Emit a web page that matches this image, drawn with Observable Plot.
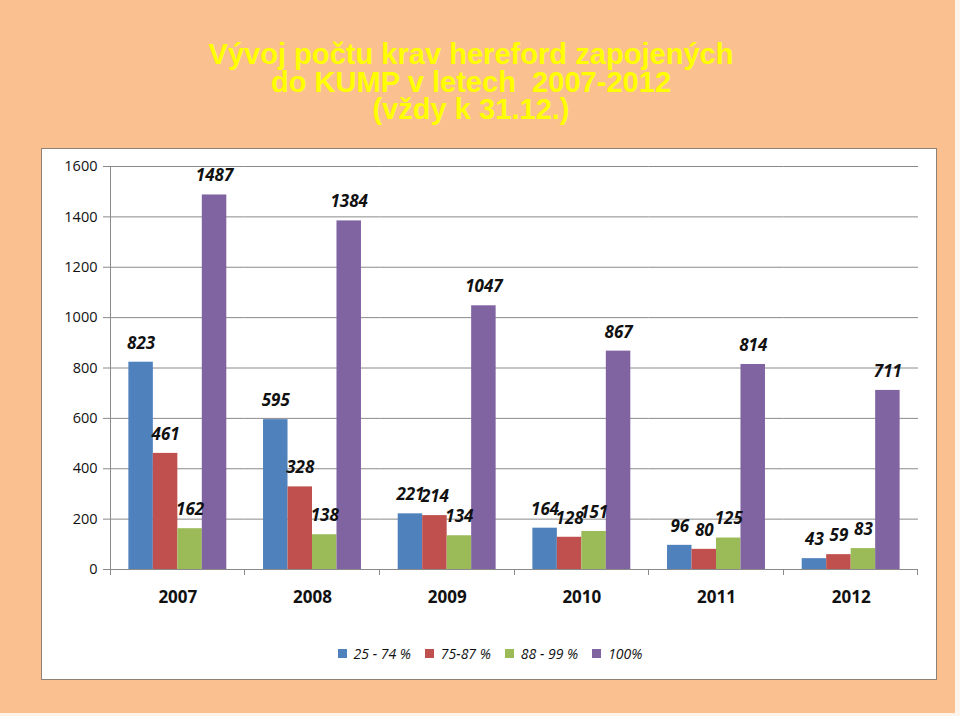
<!DOCTYPE html>
<html><head><meta charset="utf-8">
<script src="https://cdn.jsdelivr.net/npm/d3@7"></script>
<script src="https://cdn.jsdelivr.net/npm/@observablehq/plot@0.6"></script>
<style>
html,body{margin:0;padding:0;background:#fdf4ec;width:960px;height:716px;overflow:hidden}
#page{position:absolute;left:0;top:0;width:955px;height:713px;background:#fac090}
#title{position:absolute;left:0;top:40px;width:942px;text-align:center;color:#ffff00;
 font-family:"Liberation Sans",Arial,sans-serif;font-weight:bold;
 font-size:29.5px;line-height:27.5px;transform-origin:471px 0}
#box{position:absolute;left:41px;top:148px;width:894px;height:530px;background:#fff;border:1px solid #8f8274}
#chart{position:absolute;left:0;top:0}
#legend{position:absolute;left:8px;top:488px;width:894px;display:flex;justify-content:center}
.lg-swatch{margin-right:14px !important;font-style:italic}
</style></head>
<body>
<div id="page">
 <div id="title">Vývoj počtu krav hereford zapojených<br>do KUMP v letech&nbsp; 2007-2012<br>(vždy k 31.12.)</div>
 <div id="box"><div id="chart"></div><div id="legend"></div></div>
</div>
<script>
const years = ["2007","2008","2009","2010","2011","2012"];
const series = ["25 - 74 %","75-87 %","88 - 99 %","100%"];
const colors = ["#4f81bd","#c0504d","#9bbb59","#8064a2"];
const v25_74  = [823, 595, 221, 164, 96, 43];
const v75_87  = [461, 328, 214, 128, 80, 59];
const v88_99  = [162, 138, 134, 151, 125, 83];
const v100    = [1487, 1384, 1047, 867, 814, 711];
const yTicks = [0,200,400,600,800,1000,1200,1400,1600];

const valueSets = [v25_74, v75_87, v88_99, v100];
const data = [];
years.forEach((yr, j) => series.forEach((s, k) => data.push({year: yr, series: s, value: valueSets[k][j]})));

// condense the title to the reference's narrow look
(function(){
  const c = document.createElement("canvas").getContext("2d");
  c.font = "bold 29.5px 'Liberation Sans', Arial, sans-serif";
  const w = c.measureText("Vývoj počtu krav hereford zapojených").width;
  document.getElementById("title").style.transform = `scaleX(${525 / w})`;
})();

const axisGray = "#8a8a8a";
const font = "'Open Sans', sans-serif";

const edgeTicks = Plot.dot(years, {
  fx: d => d, frameAnchor: "middle",
  render(index, scales) {
    const {x, y} = scales;
    const [x0, x1] = x.range();
    const g = d3.create("svg:g").attr("stroke", axisGray).attr("stroke-width", 1).attr("shape-rendering","crispEdges");
    for (const i of index) {
      const top = i === 0 ? y(yTicks[yTicks.length-1]) : y(0);
      g.append("line").attr("x1", x0).attr("x2", x0).attr("y1", top).attr("y2", y(0) + 6);
      if (i === years.length - 1)
        g.append("line").attr("x1", x1).attr("x2", x1).attr("y1", y(0)).attr("y2", y(0) + 6);
    }
    return g.node();
  }
});

const chart = Plot.plot({
  width: 894, height: 460,
  marginLeft: 68, marginRight: 18, marginTop: 17, marginBottom: 40,
  style: {fontFamily: font, background: "transparent", overflow: "visible"},
  fx: {domain: years, padding: 0, round: false, label: null},
  x: {domain: series, paddingInner: 0, paddingOuter: 0.75, round: false, axis: null},
  y: {domain: [0, 1600], ticks: yTicks, label: null},
  color: {domain: series, range: colors},
  marks: [
    Plot.gridY(yTicks, {stroke: axisGray, strokeOpacity: 1}),
    Plot.axisY(yTicks, {tickSize: 7, tickPadding: 6, stroke: axisGray, fontSize: 14.5, fill: "#111", label: null, tickFormat: d => String(d)}),
    Plot.axisFx({anchor: "bottom", tickSize: 0, tickPadding: 21, fontSize: 17, fontWeight: "bold", fill: "#111", label: null}),
    Plot.barY(data, {fx: "year", x: "series", y: "value", fill: "series"}),
    edgeTicks,
    Plot.text(data, {fx: "year", x: "series", y: "value", text: d => String(d.value), dy: -19,
      fontSize: 17, fontWeight: "bold", fontStyle: "italic", fill: "#111"})
  ]
});
document.getElementById("chart").appendChild(chart);

const legend = Plot.legend({
  color: {type: "ordinal", domain: series, range: colors},
  legend: "swatches", swatchSize: 9, className: "lg",
  style: {fontFamily: font, fontSize: "14px", fontStyle: "italic", color: "#111"}
});
document.getElementById("legend").appendChild(legend);
</script>
</body></html>
